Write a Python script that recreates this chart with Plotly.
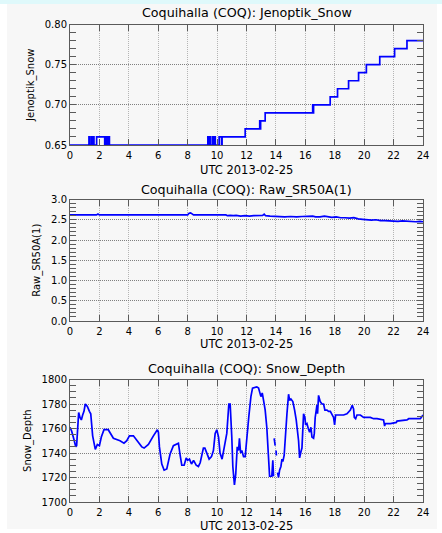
import plotly.graph_objects as go
from plotly.subplots import make_subplots

# ---- Jenoptik_Snow (step record, hours UTC) ----
jen_hours = [0.0, 1.29, 1.33, 1.45, 1.49, 1.59, 1.63, 1.81, 2.36, 2.40, 2.45, 2.50,
             2.55, 2.60, 2.68, 9.37, 9.42, 9.52, 9.56, 9.70, 9.74, 9.83, 9.88, 10.14,
             10.30, 10.34, 11.91, 12.90, 12.93, 12.96, 13.27, 16.50, 16.53, 16.56, 17.69,
             18.19, 18.94, 19.62, 20.15, 21.06, 22.07, 22.91, 24.0]
jen_values = [0.65, 0.66, 0.65, 0.66, 0.65, 0.66, 0.65, 0.66, 0.65, 0.66, 0.65, 0.66,
              0.65, 0.66, 0.65, 0.66, 0.65, 0.66, 0.65, 0.66, 0.65, 0.66, 0.65, 0.66,
              0.65, 0.66, 0.67, 0.68, 0.67, 0.68, 0.69, 0.70, 0.69, 0.70, 0.71,
              0.72, 0.73, 0.74, 0.75, 0.76, 0.77, 0.78, 0.78]

# ---- Raw_SR50A(1) ----
sr_hours = [0.0, 1.8, 1.9, 2.0, 8.0, 8.1, 8.2, 8.3, 8.4, 10.6, 10.7, 10.9, 11.1, 11.3,
            11.6, 11.9, 12.2, 12.5, 12.8, 13.1, 13.2, 13.3, 13.6, 14.0, 14.3, 14.6,
            15.0, 15.4, 15.8, 16.2, 16.5, 16.7, 17.0, 17.3, 17.5, 17.8, 18.1, 18.4,
            18.7, 19.0, 19.3, 19.6, 19.9, 20.2, 20.5, 20.8, 21.1, 21.4, 21.7, 22.0,
            22.3, 22.6, 22.9, 23.2, 23.5, 23.8, 24.0]
sr_values = [2.62, 2.62, 2.64, 2.62, 2.62, 2.66, 2.67, 2.64, 2.62, 2.62, 2.60, 2.61,
             2.60, 2.61, 2.59, 2.60, 2.59, 2.60, 2.60, 2.61, 2.64, 2.60, 2.59, 2.58,
             2.59, 2.57, 2.58, 2.57, 2.58, 2.58, 2.59, 2.57, 2.57, 2.59, 2.58, 2.56,
             2.57, 2.55, 2.55, 2.54, 2.55, 2.52, 2.51, 2.50, 2.49, 2.50, 2.48, 2.48,
             2.47, 2.47, 2.46, 2.47, 2.46, 2.46, 2.45, 2.46, 2.45]

# ---- Snow_Depth (None marks gaps in the record) ----
sd_hours = [0.00, 0.11, 0.27, 0.39, 0.45, 0.59, 0.68, 0.77, 0.86, 0.95, 1.04, 1.18,
            1.32, 1.41, 1.54, 1.72, 1.86, 2.00, 2.13, 2.31, 2.60, 2.95, 3.40, 3.67,
            3.86, 4.04, 4.31, 4.54, 4.88, 5.04, 5.33, 5.67, 5.94, 6.01, 6.08, 6.24,
            6.40, 6.58, 6.80, 7.03, 7.37, 7.49, 7.60, 7.76, 7.90, 8.00, 8.12, 8.26,
            8.40, 8.58, 8.73, 8.85, 9.07, 9.17, 9.30, 9.46, 9.62, 9.75, 9.87, 9.98,
            10.10, 10.20, 10.34, 10.48, 10.66, 10.80, 10.89, 11.00, 11.07, 11.18,
            11.27, 11.37, 11.46, 11.52, 11.60, 11.68, 11.80, 11.91, 12.02, 12.16,
            12.30, 12.41, 12.70, 12.82, 12.98, 13.07, 13.16, 13.27, 13.38, 13.45,
            13.52, 13.57, 13.72, 13.79, 13.84, 13.86,
            13.88, 13.95, 13.96,
            14.01, 14.03, 14.05,
            14.11, 14.18, 14.25, 14.34, 14.41, 14.47, 14.56, 14.63, 14.75, 14.86,
            14.93, 15.02, 15.15, 15.27, 15.38, 15.54, 15.61, 15.70, 15.77, 15.88,
            15.97, 16.02, 16.11, 16.20, 16.29, 16.38, 16.45, 16.56, 16.61, 16.67,
            16.79, 16.83, 16.90, 17.01, 17.13, 17.24, 17.33, 17.47, 17.58, 17.70,
            17.81, 17.92, 17.99, 18.06, 18.15, 18.60, 18.83, 19.06, 19.19, 19.28,
            19.33, 19.42, 19.51, 19.74, 19.96, 20.19, 20.42, 20.64, 20.87, 21.32,
            21.39, 21.44, 21.78, 22.19, 22.23, 22.91, 23.03, 23.82, 23.93, 24.00]
sd_values = [1761, 1758, 1751, 1745, 1746, 1773, 1769, 1767, 1771, 1774, 1780, 1778,
             1774, 1772, 1754, 1743, 1747, 1746, 1753, 1759, 1759, 1752, 1750, 1748,
             1750, 1754, 1754, 1750, 1745, 1744, 1747, 1754, 1759, 1757, 1745, 1731,
             1726, 1727, 1739, 1746, 1748, 1738, 1730, 1730, 1736, 1734, 1735, 1731,
             1734, 1730, 1729, 1732, 1744, 1744, 1740, 1735, 1737, 1742, 1756, 1759,
             1753, 1740, 1735, 1745, 1756, 1780, 1780, 1753, 1729, 1714,
             1723, 1745, 1742, 1752, 1740, 1742, 1737, 1737, 1753, 1770,
             1786, 1793, 1794, 1793, 1786, 1789, 1783, 1775, 1761, 1744,
             1737, 1721, 1721, 1734, 1721, None,
             1752, 1746, None,
             1742, 1738, None,
             1724, 1720, 1726, 1729, 1735, 1733, 1738, 1753, 1772, 1788,
             1783, 1784, 1782, 1775, 1767, 1750, 1736, 1741, 1744, 1772,
             1769, 1763, 1764, 1760, 1757, 1761, 1753, 1752, 1756, 1769,
             1779, 1772, 1787, 1782, 1780, 1780, 1775, 1775, 1774, 1774,
             1772, 1769, 1763, 1771, 1771, 1771, 1772, 1775, 1779, 1776,
             1769, 1768, 1771, 1771, 1769, 1769, 1769, 1768, 1768, 1767,
             1762, 1764, 1764, 1765, 1766, 1767, 1768, 1768, 1770, 1771]

hour_ticks = list(range(0, 25, 2))
station = "Coquihalla (COQ)"
xlabel = "UTC 2013-02-25"

panels = [
    ("Jenoptik_Snow", jen_hours, jen_values, [0.65, 0.80], 0.05, 0.01, "hv", ".2f"),
    ("Raw_SR50A(1)", sr_hours, sr_values, [0.0, 3.0], 0.5, 0.1, "linear", ".1f"),
    ("Snow_Depth", sd_hours, sd_values, [1700, 1800], 20, 5, "linear", "d"),
]

# ---- page geometry (pixels) ----
W, H = 442, 533
ML, MR, MT, MB = 70, 19, 24, 31
PW, PH = W - ML - MR, H - MT - MB


def px_x(px):
    return (px - ML) / PW


def px_y(py):
    return (H - MB - py) / PH


panel_px = [(24.5, 145.0), (199.5, 321.0), (379.5, 502.0)]
title_py = [12.5, 189.0, 368.0]
xlabel_py = [170.0, 344.0, 525.5]

fig = make_subplots(rows=3, cols=1)

FONT = "DejaVu Sans"
AXIS_COLOR = "#5a5a5a"
BG = "#f7f7f7"

for i, (name, xs, ys, yr, dt, mdt, shape, fmt) in enumerate(panels):
    row = i + 1
    fig.add_trace(
        go.Scatter(x=xs, y=ys, mode="lines", line=dict(color="#0000ff", width=1.7, shape=shape),
                   connectgaps=False, showlegend=False, hoverinfo="skip"),
        row=row, col=1)
    top, bot = panel_px[i]
    fig.update_yaxes(
        row=row, col=1, domain=[px_y(bot), px_y(top)], range=yr, dtick=dt, tick0=yr[0],
        tickformat=fmt, ticks="inside", ticklen=6, tickcolor=AXIS_COLOR, mirror="ticks",
        showline=True, linecolor=AXIS_COLOR, linewidth=1, automargin=False,
        showgrid=True, gridcolor="#808080", griddash="1px,1px", gridwidth=1,
        zeroline=False, tickfont=dict(family=FONT, size=10, color="black"),
        minor=dict(dtick=mdt, tick0=yr[0], ticks="inside", ticklen=6, tickcolor=AXIS_COLOR,
                   showgrid=False),
        title=dict(text=name, font=dict(family=FONT, size=10, color="black"), standoff=8),
    )
    fig.update_xaxes(
        row=row, col=1, range=[0, 24], tickvals=hour_ticks, ticks="inside", ticklen=6,
        tickcolor=AXIS_COLOR, mirror="ticks", showline=True, linecolor=AXIS_COLOR,
        linewidth=1, showgrid=True, gridcolor="#b5b5b5", griddash="1px,1px", gridwidth=1,
        zeroline=False, tickfont=dict(family=FONT, size=10, color="black"),
        ticklabelstandoff=1, automargin=False,
    )
    # panel title
    fig.add_annotation(
        xref="paper", yref="paper", x=0.5, y=px_y(title_py[i]), xanchor="center",
        yanchor="middle", showarrow=False, text=f"{station}: {name}",
        font=dict(family=FONT, size=12.7, color="black"))
    # time axis label
    fig.add_annotation(
        xref="paper", yref="paper", x=0.5, y=px_y(xlabel_py[i]), xanchor="center",
        yanchor="middle", showarrow=False, text=xlabel,
        font=dict(family=FONT, size=11.5, color="black"))

# page panel and header band
fig.add_shape(type="rect", xref="paper", yref="paper", layer="below",
              x0=px_x(7), x1=px_x(437), y0=px_y(529), y1=px_y(4),
              fillcolor=BG, line=dict(width=0))
fig.add_shape(type="rect", xref="paper", yref="paper", layer="below",
              x0=px_x(0), x1=px_x(W), y0=px_y(4), y1=px_y(0),
              fillcolor="#dff9fb", line=dict(width=0))

fig.update_layout(
    width=W, height=H, margin=dict(l=ML, r=MR, t=MT, b=MB, autoexpand=False),
    paper_bgcolor="white", plot_bgcolor=BG, showlegend=False,
    font=dict(family=FONT, color="black"),
)

fig.write_html("out.html")
